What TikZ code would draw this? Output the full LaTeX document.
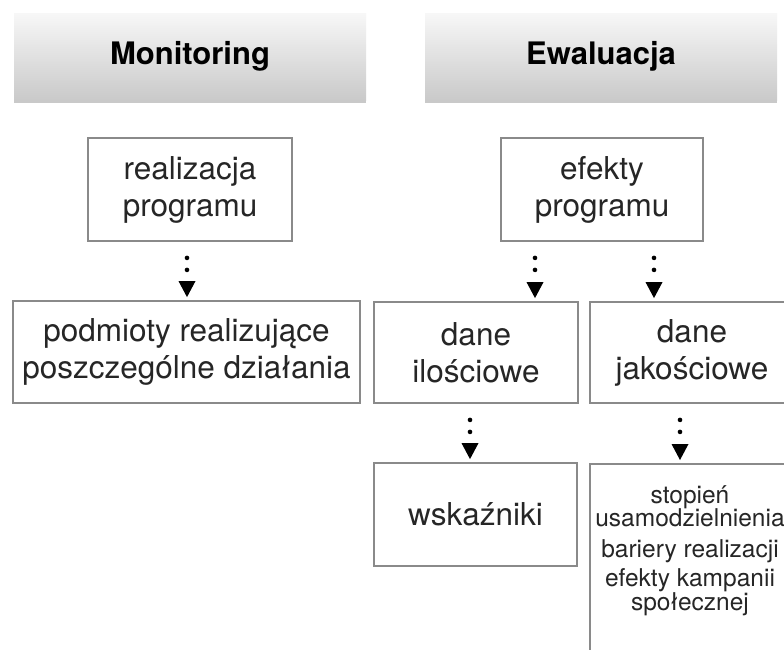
\documentclass[tikz,border=0pt]{standalone}
\usepackage{fontspec}
\setmainfont{TeX Gyre Heros}
\usetikzlibrary{arrows.meta,shadows}
\definecolor{boxline}{HTML}{8A8A8A}
\definecolor{txt}{HTML}{262626}
\begin{document}
\begin{tikzpicture}[x=1pt,y=-1pt,
  header/.style={minimum width=352pt, minimum height=87pt, inner sep=0pt,
    top color=white!97!black, bottom color=white!79!black, draw=none,
    drop shadow={shadow xshift=0pt, shadow yshift=-2.5pt, opacity=0.35, fill=black!60},
    font=\fontsize{31}{36}\selectfont\bfseries, text=black},
  box/.style={draw=boxline, line width=1.8pt, minimum width=204pt, minimum height=102pt,
    inner sep=0pt, align=center, text=txt, font=\fontsize{31.5}{37}\selectfont},
  small/.style={align=center, text=txt, inner sep=0pt, font=\fontsize{24.5}{23.5}\selectfont},
  conn/.style={line width=4.6pt, line cap=round, dash pattern=on 0pt off 12pt on 0pt off 60pt,
    shorten <=16pt, shorten >=3pt,
    -{Triangle[length=16pt,width=17pt,line width=0pt]}}]
\useasboundingbox (0,0) rectangle (784,649);
\clip (0,0) rectangle (784,649);
\fill[white] (0,0) rectangle (784,649);
% headers
\node[header] (mon) at (190,56.5) {Monitoring};
\node[header] (ewa) at (601,56.5) {Ewaluacja};
% monitoring column
\node[box, minimum height=103pt] (real) at (190,189.5) {realizacja\\programu};
\node[box, minimum width=347pt] (podm) at (186.5,352) {podmioty realizujące\\poszczególne działania};
% evaluation column
\node[box, minimum width=202pt, minimum height=103pt] (efek) at (602,189.5) {efekty\\programu};
\node[box, minimum height=101pt] (ilo) at (476,352.5) {dane\\ilościowe};
\node[box, minimum height=101pt] (jak) at (692,352.5) {dane\\jakościowe};
\node[box, minimum width=203pt, minimum height=103pt] (wsk) at (475.5,514.5) {wskaźniki};
\node[box, minimum height=230pt, anchor=north] (last) at (692,463) {};
\node[small, anchor=north] (lasttxt) at (690,485) {stopień\\usamodzielnienia\\[7pt]bariery realizacji\\[6pt]efekty kampanii\\społecznej};
% connectors
\draw[conn] ([xshift=-3pt]real.south) -- ([xshift=-3pt]real.south |- podm.north);
\draw[conn] ([xshift=-67pt]efek.south) -- ([xshift=-67pt]efek.south |- ilo.north);
\draw[conn] ([xshift=52pt]efek.south) -- ([xshift=52pt]efek.south |- jak.north);
\draw[conn] ([xshift=-6pt]ilo.south) -- ([xshift=-6pt]ilo.south |- wsk.north);
\draw[conn] ([xshift=-12pt]jak.south) -- ([xshift=-12pt]jak.south |- last.north);
\end{tikzpicture}
\end{document}
